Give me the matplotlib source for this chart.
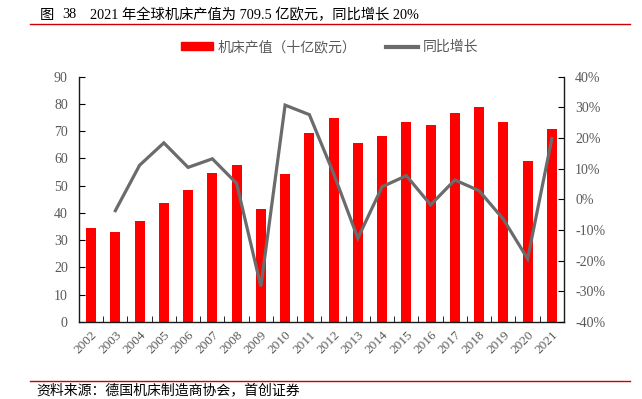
import matplotlib
matplotlib.use("Agg")
import matplotlib.pyplot as plt
from matplotlib.lines import Line2D
from matplotlib.patches import Patch
from matplotlib.ticker import FuncFormatter
from matplotlib.transforms import ScaledTranslation
import numpy as np

years = [str(y) for y in range(2002, 2022)]
output = [34.3, 33.1, 36.9, 43.7, 48.4, 54.7, 57.7, 41.4, 54.1, 69.2,
          75.0, 65.5, 68.2, 73.4, 72.1, 76.6, 78.7, 73.4, 59.1, 70.95]
# yoy growth, no value for 2002
growth = [None, -3.7, 11.1, 18.4, 10.4, 13.2, 5.2, -28.4, 30.7, 27.6,
          8.4, -12.7, 4.1, 7.7, -1.8, 6.3, 2.8, -6.5, -19.4, 19.8]

serif = ["Liberation Serif", "Noto Sans CJK SC", "DejaVu Serif"]
cjk = ["Noto Sans CJK SC", "DejaVu Sans"]
plt.rcParams["font.family"] = serif
grey = "#595959"

fig = plt.figure(figsize=(6.42, 3.99), dpi=100)
ax = fig.add_axes([0.123, 0.193, 0.7555, 0.615])
ax2 = ax.twinx()

x = np.arange(len(years))
ax.bar(x, output, width=0.41, color="#ff0000", zorder=2)
gx = [i for i, g in zip(x, growth) if g is not None]
gy = [g for g in growth if g is not None]
ax2.plot(gx, gy, color="#6b6b6b", lw=2.3, solid_joinstyle="miter", zorder=3)

ax.set_xlim(-0.5, len(years) - 0.5)
ax.set_ylim(0, 90)
ax.set_yticks(range(0, 91, 10))
ax2.set_ylim(-40, 40)
ax2.set_yticks(range(-40, 41, 10))
ax2.yaxis.set_major_formatter(FuncFormatter(lambda v, p: "%d%%" % v))

ax.set_xticks(x)
ax.set_xticklabels(years, rotation=45, ha="right", rotation_mode="anchor",
                   fontsize=9.5, color=grey)
# nudge rotated labels a bit left/down like the original
shift = ScaledTranslation(-4 / 100, -4 / 100, fig.dpi_scale_trans)
for lab in ax.get_xticklabels():
    lab.set_transform(lab.get_transform() + shift)
ax.set_xticks(np.arange(-0.5, len(years), 1), minor=True)
ax.tick_params(axis="x", which="major", length=0, pad=5)
ax.tick_params(axis="x", which="minor", direction="in", length=4, color="black")
ax.tick_params(axis="y", direction="in", length=4, labelsize=10, labelcolor=grey, pad=8)
ax2.tick_params(axis="y", direction="in", length=4, labelsize=10, labelcolor=grey, pad=8)

for a in (ax, ax2):
    a.spines["top"].set_visible(False)
    for s in ("left", "right", "bottom"):
        a.spines[s].set_color("#1a1a1a")
        a.spines[s].set_linewidth(1.0)
ax.spines["right"].set_visible(False)
ax2.spines["left"].set_visible(False)
ax2.spines["bottom"].set_visible(False)

# title and rules
ty = 1 - 15 / 399
fig.text(40 / 642, ty, "图", fontsize=10.3, va="center", ha="left", color="black")
fig.text(62 / 642, ty, "38", fontsize=10.3, va="center", ha="left", color="black")
fig.text(90 / 642, ty, "2021 年全球机床产值为 709.5 亿欧元，同比增长 20%",
         fontsize=10.3, va="center", ha="left", color="black")
fig.add_artist(Line2D([30 / 642, 630 / 642], [1 - 24 / 399, 1 - 24 / 399],
                      color="#cc0000", lw=1.0))
fig.add_artist(Line2D([30 / 642, 630 / 642], [1 - 381 / 399, 1 - 381 / 399],
                      color="#cc0000", lw=1.0))
fig.text(36 / 642, 1 - 390.5 / 399, "资料来源：德国机床制造商协会，首创证券",
         fontsize=10, family=cjk, va="center", ha="left", color="black")

handles = [Patch(color="#ff0000"), Line2D([], [], color="#6b6b6b", lw=3)]
leg = fig.legend(handles, ["机床产值（十亿欧元）", "同比增长"], loc="center",
                 bbox_to_anchor=(329.5 / 642, 1 - 47 / 399), ncol=2, frameon=False,
                 prop={"family": cjk, "size": 10}, handlelength=2.3,
                 handleheight=0.5, columnspacing=2.2, handletextpad=0.3)
for t in leg.get_texts():
    t.set_color(grey)

fig.savefig("out.png", dpi=100)
